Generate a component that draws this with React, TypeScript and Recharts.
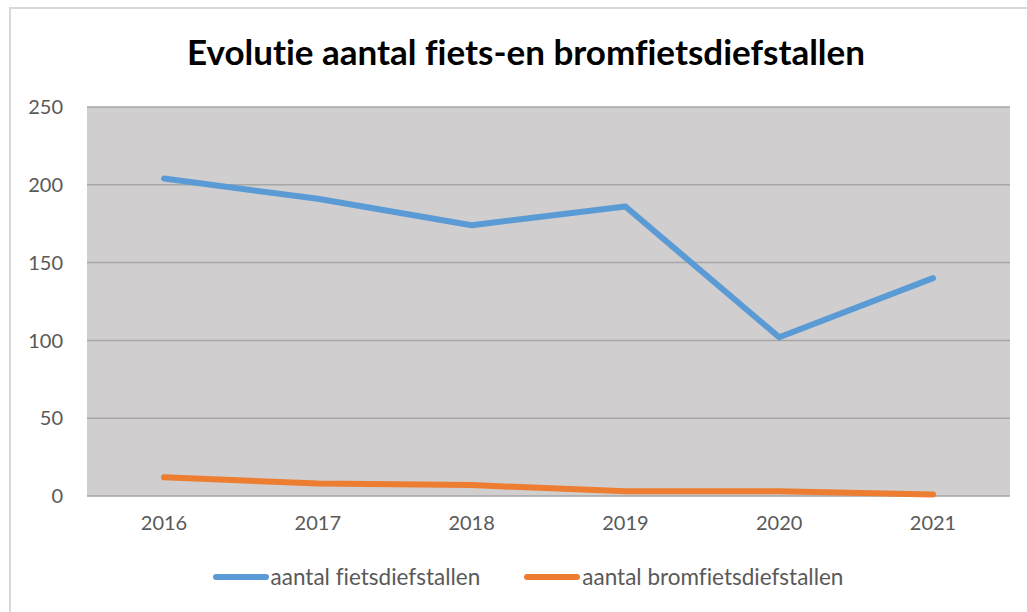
import React from "react";
import { LineChart, Line, XAxis, YAxis, CartesianGrid } from "recharts";

const years = ["2016", "2017", "2018", "2019", "2020", "2021"];
const fietsdiefstallen = [204, 191, 174, 186, 102, 140];
const bromfietsdiefstallen = [12, 8, 7, 3, 3, 1];
const yTicks = [0, 50, 100, 150, 200, 250];
const seriesNames = ["aantal fietsdiefstallen", "aantal bromfietsdiefstallen"];
const seriesColors = ["#5B9BD5", "#ED7D31"];

const data = years.map((y, i) => ({
  year: y,
  fiets: fietsdiefstallen[i],
  brom: bromfietsdiefstallen[i],
}));

const FONT = "Lato, 'Noto Sans', sans-serif";
const noLig: React.CSSProperties = { fontVariantLigatures: "none", fontFeatureSettings: '"liga" 0, "clig" 0' };

export default function App() {
  const tickStyle = { fill: "#595959", fontSize: 20, fontFamily: FONT, style: noLig };
  return (
    <div style={{ position: "absolute", left: 0, top: 0, width: 1027, height: 612, background: "#fff", overflow: "hidden" }}>
      <div style={{ position: "absolute", left: 9, top: 7, width: 1030, height: 620, border: "2px solid #D9D9D9", boxSizing: "border-box" }} />
      <div style={{ position: "absolute", left: 0, top: 30, width: 1052, textAlign: "center", fontFamily: FONT, fontWeight: 700, fontSize: 35, color: "#000", ...noLig }}>
        Evolutie aantal fiets-en bromfietsdiefstallen
      </div>
      <div style={{ position: "absolute", left: 0, top: 0 }}>
        <LineChart width={1027} height={612} data={data} margin={{ top: 107, right: 17, bottom: 86, left: 0 }}>
          <CartesianGrid vertical={false} stroke="#A6A6A6" strokeWidth={1.5} fill="#D0CECE" />
          <XAxis
            dataKey="year"
            height={30}
            axisLine={false}
            tickLine={false}
            tickSize={0}
            tickMargin={20}
            padding={{ left: 77, right: 77 }}
            tick={tickStyle}
          />
          <YAxis
            width={87}
            domain={[0, 250]}
            ticks={yTicks}
            axisLine={false}
            tickLine={false}
            tickSize={0}
            tickMargin={24}
            tick={tickStyle}
          />
          <Line
            type="linear"
            dataKey="fiets"
            name={seriesNames[0]}
            stroke={seriesColors[0]}
            strokeWidth={6}
            strokeLinecap="round"
            strokeLinejoin="round"
            dot={false}
            activeDot={false}
            isAnimationActive={false}
          />
          <Line
            type="linear"
            dataKey="brom"
            name={seriesNames[1]}
            stroke={seriesColors[1]}
            strokeWidth={6}
            strokeLinecap="round"
            strokeLinejoin="round"
            dot={false}
            activeDot={false}
            isAnimationActive={false}
          />
        </LineChart>
      </div>
      <div style={{ position: "absolute", left: 0, top: 563, width: 1056, display: "flex", justifyContent: "center", alignItems: "center", fontFamily: FONT, fontSize: 22.5, color: "#595959", ...noLig }}>
        {seriesNames.map((name, i) => (
          <div key={i} style={{ display: "flex", alignItems: "center", marginRight: i === 0 ? 44 : 0 }}>
            <div style={{ width: 56, height: 6, borderRadius: 3, background: seriesColors[i], marginRight: 2 }} />
            <span>{name}</span>
          </div>
        ))}
      </div>
    </div>
  );
}
